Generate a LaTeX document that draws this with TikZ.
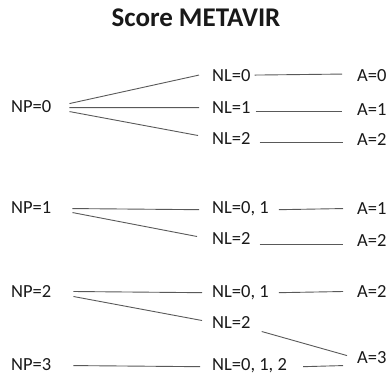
\documentclass[tikz,border=0pt]{standalone}
\usepackage{fontspec}
\setmainfont{Carlito}
\usepackage{tikz}

\begin{document}
\begin{tikzpicture}[x=1pt, y=-1pt, every node/.style = {anchor=base west, inner sep=0pt, font=\fontsize{18.5}{20}\selectfont, text=black!90}, link/.style = {draw=black!65, line width=0.9pt}]
    \useasboundingbox (0,0) rectangle (388,376);
    \node[anchor=base, font=\fontsize{27}{30}\selectfont\bfseries] (title) at (196,26) {Score METAVIR};

    \node (np0) at (11,112.5) {NP=0};
    \node (nl0) at (212,81) {NL=0};
    \node (nl1) at (212,113) {NL=1};
    \node (nl2) at (212,144.5) {NL=2};
    \node (a0) at (357,81) {A=0};
    \node (a1) at (357,115.5) {A=1};
    \node (a2) at (357,145.5) {A=2};

    \node (np1) at (11,213.5) {NP=1};
    \node (nl01) at (212,213.5) {NL=0, 1};
    \node (nl2b) at (212,244.5) {NL=2};
    \node (a1b) at (357,214.5) {A=1};
    \node (a2b) at (357,246.5) {A=2};

    \node (np2) at (11,297.5) {NP=2};
    \node (nl01b) at (212,297.5) {NL=0, 1};
    \node (nl2c) at (212,328.5) {NL=2};
    \node (a2c) at (357,297.5) {A=2};

    \node (np3) at (11,370.5) {NP=3};
    \node (nl012) at (212,370.5) {NL=0, 1, 2};
    \node (a3) at (357,363.5) {A=3};

    \draw[link] ([xshift=18pt, yshift=3pt]np0.east) -- ([xshift=-13pt]nl0.west);
    \draw[link] ([xshift=18pt, yshift=-1pt]np0.east) -- ([xshift=-13pt, yshift=-0.5pt]nl1.west);
    \draw[link] ([xshift=18pt, yshift=-5pt]np0.east) -- ([xshift=-14pt, yshift=3pt]nl2.west);
    \draw[link] ([xshift=4pt]nl0.east) -- ([xshift=-15pt, yshift=1pt]a0.west);
    \draw[link] ([xshift=5pt, yshift=-4.5pt]nl1.east) -- ([xshift=-15pt, yshift=-2pt]a1.west);
    \draw[link] ([xshift=9pt, yshift=-4pt]nl2.east) -- ([xshift=-14pt, yshift=-3pt]a2.west);

    \draw[link] ([xshift=21pt, yshift=-1pt]np1.east) -- ([xshift=-13pt, yshift=-1pt]nl01.west);
    \draw[link] ([xshift=21pt, yshift=-5pt]np1.east) -- ([xshift=-15pt, yshift=2pt]nl2b.west);
    \draw[link] ([xshift=10pt, yshift=-1pt]nl01.east) -- ([xshift=-14pt]a1b.west);
    \draw[link] ([xshift=9pt, yshift=-6pt]nl2b.east) -- ([xshift=-14pt, yshift=-4pt]a2b.west);

    \draw[link] ([xshift=22pt]np2.east) -- ([xshift=-10pt]nl01b.west);
    \draw[link] ([xshift=22pt, yshift=-5pt]np2.east) -- ([xshift=-10pt, yshift=2pt]nl2c.west);
    \draw[link] ([xshift=10pt]nl01b.east) -- ([xshift=-14pt]a2c.west);
    \draw[link] ([xshift=11pt, yshift=-9pt]nl2c.east) -- ([xshift=-10pt, yshift=2pt]a3.west);

    \draw[link] ([xshift=22pt, yshift=-1pt]np3.east) -- ([xshift=-12pt, yshift=-1pt]nl012.west);
    \draw[link] ([xshift=16pt, yshift=-1pt]nl012.east) -- ([xshift=-14pt, yshift=-8pt]a3.west);
\end{tikzpicture}
\end{document}
